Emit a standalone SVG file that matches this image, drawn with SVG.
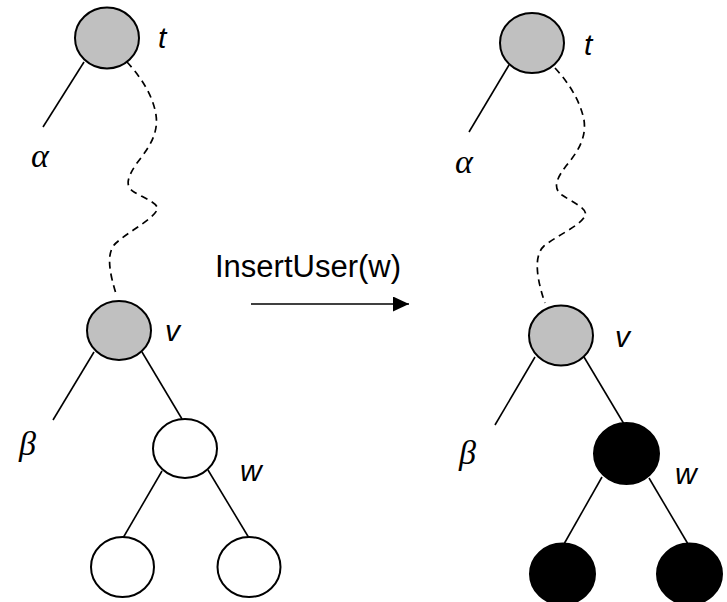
<svg xmlns="http://www.w3.org/2000/svg" width="727" height="602" viewBox="0 0 727 602">
<style>
.n{stroke:#000;stroke-width:2}
.g{fill:#c0c0c0}
.w{fill:#fff}
.b{fill:#000}
.e{stroke:#000;stroke-width:1.6;fill:none}
.d{stroke:#000;stroke-width:1.7;fill:none;stroke-dasharray:7 5}
.lbl{font-family:"Liberation Sans",Arial,sans-serif;font-style:italic;font-size:30px;fill:#000}
.gr{font-family:"Liberation Serif","Times New Roman",serif;font-style:italic;font-size:34px;fill:#000}
.op{font-family:"Liberation Sans",Arial,sans-serif;font-size:31px;fill:#000}
</style>
<defs>
<marker id="ah" markerWidth="16" markerHeight="15" refX="16" refY="7.5" orient="auto" markerUnits="userSpaceOnUse">
<path d="M0,0 L16,7.5 L0,15 Z" fill="#000"/>
</marker>
</defs>
<g id="connectors">
<line class="e" x1="84" y1="62" x2="43" y2="127"/>
<path class="d" d="M127,62 C140,76 153,95 156,115 C159,135 147,150 137,163 C128,176 124,186 134,192 C144,198 160,204 157,210 C152,220 128,232 116,243 C105,253 110,275 117,297"/>
<line class="e" x1="94" y1="352" x2="53" y2="420"/>
<line class="e" x1="142" y1="352" x2="182" y2="419"/>
<line class="e" x1="162" y1="471" x2="123" y2="538"/>
<line class="e" x1="208" y1="470" x2="249" y2="538"/>
<line class="e" x1="251" y1="304" x2="409" y2="304" marker-end="url(#ah)"/>
<line class="e" x1="509" y1="65" x2="469" y2="132"/>
<path class="d" d="M555,68 C568,82 580,100 584,120 C587,140 575,155 566,166 C557,178 552,188 562,195 C572,202 589,209 585,216 C580,226 556,236 544,246 C533,256 537,280 545,303"/>
<line class="e" x1="535" y1="357" x2="495" y2="425"/>
<line class="e" x1="584" y1="357" x2="624" y2="424"/>
<line class="e" x1="602" y1="477" x2="564" y2="544"/>
<line class="e" x1="649" y1="478" x2="688" y2="544"/>
</g>
<g id="t1"><ellipse class="n g" cx="107" cy="38" rx="32" ry="30.5"/><text class="lbl" x="158" y="48">t</text></g>
<g id="alpha1"><text class="gr" x="31" y="167">α</text></g>
<g id="v1"><ellipse class="n g" cx="119" cy="330.5" rx="32" ry="29.5"/><text class="lbl" x="165" y="341">v</text></g>
<g id="beta1"><text class="gr" x="19" y="455">β</text></g>
<g id="w1"><ellipse class="n w" cx="185" cy="448.5" rx="32" ry="29.5"/><text class="lbl" x="240" y="481">w</text></g>
<g id="l1"><ellipse class="n w" cx="122.5" cy="567" rx="31.5" ry="30"/></g>
<g id="r1"><ellipse class="n w" cx="249" cy="567" rx="31.5" ry="30"/></g>
<g id="op"><text class="op" x="215" y="277">InsertUser(w)</text></g>
<g id="t2"><ellipse class="n g" cx="532" cy="43" rx="32" ry="30"/><text class="lbl" x="584" y="55">t</text></g>
<g id="alpha2"><text class="gr" x="455" y="173">α</text></g>
<g id="v2"><ellipse class="n g" cx="561" cy="335.5" rx="32" ry="30"/><text class="lbl" x="615" y="347">v</text></g>
<g id="beta2"><text class="gr" x="459" y="464">β</text></g>
<g id="w2"><ellipse class="n b" cx="626.5" cy="453.5" rx="32.5" ry="30.5"/><text class="lbl" x="675" y="484">w</text></g>
<g id="l2"><ellipse class="n b" cx="562.5" cy="574" rx="32.5" ry="30.5"/></g>
<g id="r2"><ellipse class="n b" cx="689.5" cy="574" rx="32.5" ry="30.5"/></g>
</svg>
